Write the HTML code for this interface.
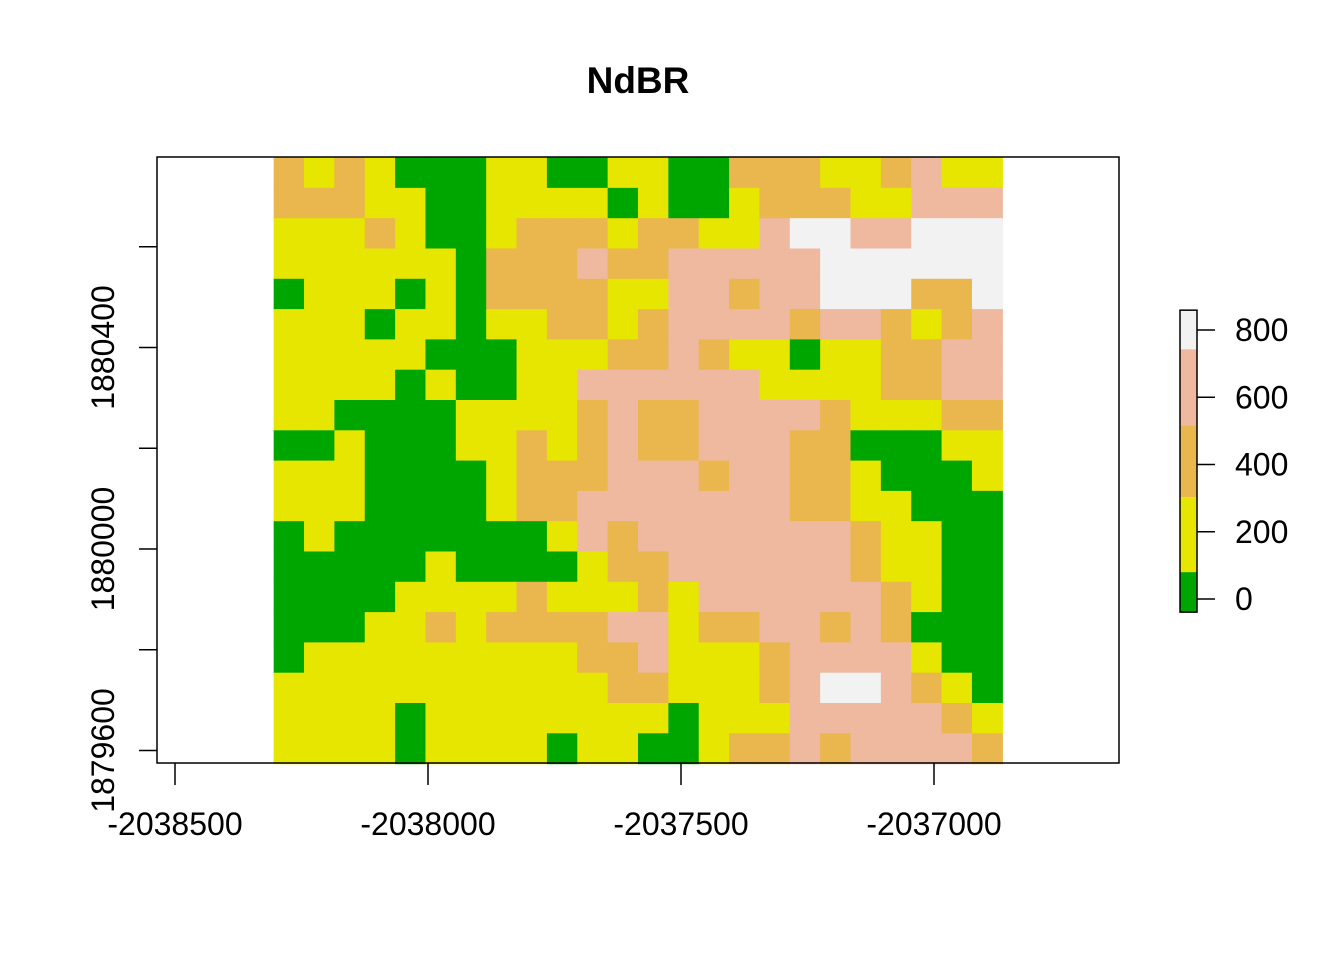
<!DOCTYPE html>
<html><head><meta charset="utf-8"><style>
html,body{margin:0;padding:0;background:#fff;}
svg text{font-family:"Liberation Sans",Arial,sans-serif;}
</style></head><body>
<svg id="chart" width="1344" height="960" viewBox="0 0 1344 960" xmlns="http://www.w3.org/2000/svg">
<rect width="1344" height="960" fill="#fff"/>
<text x="638" y="93" text-anchor="middle" font-size="37" font-weight="bold">NdBR</text>
<g id="cells"></g>
<rect x="157" y="157" width="962" height="606" fill="none" stroke="#000" stroke-width="1.5"/>
<g id="axes"></g>
<g id="legend"></g>
</svg>
<script>
// ---- data ----
const gridRows = [
"OYOYGGGYYGGYYGGOOOYYOPYY",
"OOOYYGGYYYYGYGGYOOOYYPPP",
"YYYOYGGYOOOYOOYYPWWPPWWW",
"YYYYYYGOOOPOOPPPPPWWWWWW",
"GYYYGYGOOOOYYPPOPPWWWOOW",
"YYYGYYGYYOOYOPPPPOPPOYOP",
"YYYYYGGGYYYOOPOYYGYYOOPP",
"YYYYGYGGYYPPPPPPYYYYOOPP",
"YYGGGGYYYYOPOOPPPPOYYYOO",
"GGYGGGYYOYOPOOPPPOOGGGYY",
"YYYGGGGYOOOPPPOPPOOYGGGY",
"YYYGGGGYOOPPPPPPPOOYYGGG",
"GYGGGGGGGYPOPPPPPPPOYYGG",
"GGGGGYGGGGYOOPPPPPPOYYGG",
"GGGGYYYYOYYYOYPPPPPPOYGG",
"GGGYYOYOOOOPPYOOPPOPOGGG",
"GYYYYYYYYYOOPYYYOPPPPYGG",
"YYYYYYYYYYYOOYYYOPWWPOYG",
"YYYYGYYYYYYYYGYYYPPPPPOY",
"YYYYGYYYYGYYGGYOOPOPPPPO"
];
const classValues = {G:20, Y:200, O:420, P:620, W:800};
const colorBreaks = [-39, 80, 303, 517, 743, 859];
const colorPalette = ["#00A600","#E6E600","#EAB64E","#EEB99F","#F2F2F2"];
const xTicks = [-2038500,-2038000,-2037500,-2037000];
const xTickLabels = ["-2038500","-2038000","-2037500","-2037000"];
const yTicks = [1879600,1879800,1880000,1880200,1880400,1880600];
const yTickLabels = ["1879600","","1880000","","1880400",""];
const legendTicks = [0,200,400,600,800];
const legendTickLabels = ["0","200","400","600","800"];
const gridX0 = -2038305, gridY0 = 1880777, cellW = 60, cellH = 60.15;

const NS="http://www.w3.org/2000/svg";
function xScale(v){return 175 + (v + 2038500) * 253/500;}
function yScale(v){return 549 - (v - 1880000) * 403/800;}
function lScale(v){return 599 - v * 269/800;}
function colorFor(v){for(let i=0;i<colorPalette.length;i++){if(v<colorBreaks[i+1])return colorPalette[i];}return colorPalette[colorPalette.length-1];}
function mk(tag,attrs,parent){const e=document.createElementNS(NS,tag);for(const k in attrs)e.setAttribute(k,attrs[k]);parent.appendChild(e);return e;}

const cells=document.getElementById('cells');
gridRows.forEach((row,r)=>{
  [...row].forEach((ch,c)=>{
    const v=classValues[ch];
    const x1=xScale(gridX0+c*cellW), x2=xScale(gridX0+(c+1)*cellW);
    const y1=yScale(gridY0-r*cellH), y2=yScale(gridY0-(r+1)*cellH);
    const e=mk('rect',{x:x1,y:y1,width:x2-x1+0.6,height:y2-y1+0.6,fill:colorFor(v)},cells);
    
    
  });
});

const axes=document.getElementById('axes');
xTicks.forEach((t,i)=>{
  const x=xScale(t);
  const l=mk('line',{x1:x,y1:763,x2:x,y2:785,stroke:'#000','stroke-width':1.5},axes);
  
  
  const tx=mk('text',{x:x,y:835,'text-anchor':'middle','font-size':32},axes);
  tx.textContent=xTickLabels[i];
  
  
});
yTicks.forEach((t,i)=>{
  const y=yScale(t);
  const l=mk('line',{x1:157,y1:y,x2:139,y2:y,stroke:'#000','stroke-width':1.5},axes);
  
  
  if(yTickLabels[i]){
    const tx=mk('text',{x:0,y:0,'text-anchor':'middle','font-size':32,transform:`translate(114,${y}) rotate(-90)`},axes);
    tx.textContent=yTickLabels[i];
    
    
  }
});

const lg=document.getElementById('legend');
for(let i=0;i<colorPalette.length;i++){
  const yTop=lScale(colorBreaks[i+1]), yBot=lScale(colorBreaks[i]);
  const e=mk('rect',{x:1180,y:yTop,width:17,height:yBot-yTop,fill:colorPalette[i]},lg);
  
  
}
const fr=mk('rect',{x:1180,y:lScale(colorBreaks[5]),width:17,height:lScale(colorBreaks[0])-lScale(colorBreaks[5]),fill:'none',stroke:'#000','stroke-width':1.5},lg);


legendTicks.forEach((t,i)=>{
  const y=lScale(t);
  const l=mk('line',{x1:1197,y1:y,x2:1215,y2:y,stroke:'#000','stroke-width':1.5},lg);
  
  
  const tx=mk('text',{x:1235,y:y+11,'font-size':32},lg);
  tx.textContent=legendTickLabels[i];
  
  
});
</script>
</body></html>
